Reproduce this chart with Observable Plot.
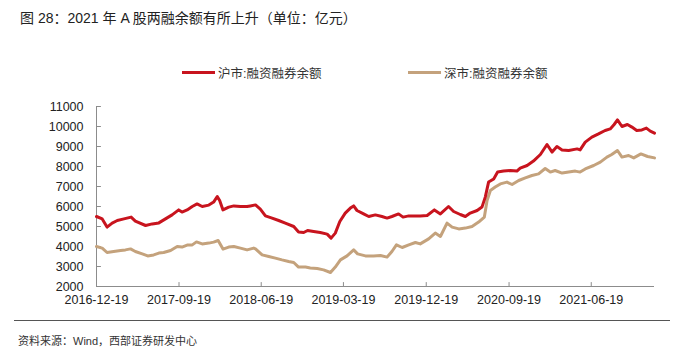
<!DOCTYPE html>
<html><head><meta charset="utf-8">
<script src="https://cdn.jsdelivr.net/npm/d3@7"></script>
<script src="https://cdn.jsdelivr.net/npm/@observablehq/plot@0.6"></script>
<style>
body{margin:0;background:#fff;font-family:"Liberation Sans","Noto Sans CJK SC",sans-serif;}
#wrap{position:relative;width:684px;height:351px;overflow:hidden;}
#title{position:absolute;left:20px;top:7px;font-size:14px;color:#222;white-space:nowrap;}
#legend{position:absolute;left:0;top:63px;width:684px;height:18px;font-size:12.5px;color:#333;}
.item{position:absolute;top:0;display:flex;align-items:center;height:18px;white-space:nowrap;}
.sw{display:inline-block;width:33px;height:3px;margin-right:3px;}
#chart{position:absolute;left:0;top:90px;}
#sep{position:absolute;left:14px;top:320px;width:656px;height:0;border-top:1.5px solid #555;}
#caption{position:absolute;left:18px;top:332px;font-size:11px;color:#333;white-space:nowrap;}
</style></head>
<body><div id="wrap">
<div id="title">图 28：2021 年 A 股两融余额有所上升（单位：亿元）</div>
<div id="legend"></div>
<div id="chart"></div>
<div id="sep"></div>
<div id="caption">资料来源：Wind，西部证券研发中心</div>
</div>
<script>
const seriesNames = ["沪市:融资融券余额", "深市:融资融券余额"];
const seriesColors = ["#C8141E", "#C4A27C"];
const xTickLabels = ["2016-12-19","2017-09-19","2018-06-19","2019-03-19","2019-12-19","2020-09-19","2021-06-19"];
const yTicks = [2000,3000,4000,5000,6000,7000,8000,9000,10000,11000];
const xDomain = ["2016-12-19","2022-01-15"];

const shDates = ["2016-12-19","2017-01-07","2017-01-23","2017-02-09","2017-02-26","2017-03-20","2017-04-13","2017-04-27","2017-05-31","2017-06-22","2017-07-14","2017-08-05","2017-08-27","2017-09-18","2017-09-29","2017-10-16","2017-11-02","2017-11-18","2017-12-05","2017-12-27","2018-01-12","2018-01-24","2018-02-01","2018-02-12","2018-03-03","2018-03-20","2018-04-11","2018-05-03","2018-05-14","2018-05-31","2018-06-16","2018-07-03","2018-07-25","2018-08-16","2018-09-07","2018-10-05","2018-10-21","2018-11-07","2018-11-20","2018-12-10","2019-01-01","2019-01-24","2019-02-06","2019-02-20","2019-03-07","2019-03-25","2019-04-11","2019-04-22","2019-05-03","2019-05-25","2019-06-11","2019-07-03","2019-07-25","2019-08-11","2019-08-27","2019-09-18","2019-10-03","2019-10-22","2019-11-29","2019-12-22","2020-01-15","2020-02-04","2020-03-02","2020-03-19","2020-04-10","2020-04-27","2020-05-13","2020-06-05","2020-06-21","2020-07-02","2020-07-13","2020-07-30","2020-08-12","2020-09-01","2020-09-23","2020-10-15","2020-10-26","2020-11-18","2020-12-09","2021-01-01","2021-01-23","2021-02-09","2021-02-25","2021-03-14","2021-04-05","2021-05-03","2021-05-13","2021-05-30","2021-06-21","2021-07-13","2021-08-04","2021-08-21","2021-09-03","2021-09-14","2021-09-29","2021-10-17","2021-11-01","2021-11-17","2021-12-04","2021-12-19","2022-01-01","2022-01-15"];
const shValues = [5500,5380,4970,5170,5300,5380,5470,5270,5050,5130,5180,5380,5580,5830,5720,5830,6000,6130,6000,6070,6220,6500,6300,5830,5970,6030,6000,6000,6030,6080,5870,5530,5420,5300,5170,5000,4720,4700,4800,4750,4700,4620,4420,4670,5250,5670,5920,6030,5800,5630,5500,5580,5500,5420,5500,5630,5470,5530,5530,5550,5830,5630,6000,5750,5600,5500,5670,5800,5970,6470,7220,7380,7720,7770,7800,7770,7920,8050,8270,8600,9100,8720,9000,8830,8800,8880,8830,9220,9470,9630,9800,9880,10100,10330,10000,10100,9970,9800,9830,9920,9770,9670];

const szDates = ["2016-12-19","2017-01-07","2017-01-23","2017-02-14","2017-03-09","2017-03-25","2017-04-11","2017-04-27","2017-05-20","2017-06-07","2017-06-27","2017-07-14","2017-07-30","2017-08-22","2017-09-13","2017-09-29","2017-10-16","2017-11-02","2017-11-16","2017-12-05","2017-12-27","2018-01-12","2018-01-27","2018-02-12","2018-03-03","2018-03-20","2018-04-11","2018-05-03","2018-05-25","2018-05-31","2018-06-22","2018-07-14","2018-08-05","2018-08-27","2018-09-18","2018-10-05","2018-10-21","2018-11-13","2018-11-29","2018-12-22","2019-01-12","2019-02-04","2019-02-20","2019-03-09","2019-03-31","2019-04-22","2019-05-05","2019-05-31","2019-06-27","2019-07-20","2019-08-11","2019-08-27","2019-09-11","2019-09-30","2019-10-22","2019-11-13","2019-11-29","2019-12-27","2020-01-18","2020-02-04","2020-02-26","2020-03-14","2020-04-05","2020-04-27","2020-05-19","2020-06-10","2020-06-29","2020-07-08","2020-07-19","2020-08-04","2020-08-21","2020-09-12","2020-09-29","2020-10-21","2020-11-12","2020-12-04","2020-12-26","2021-01-17","2021-02-03","2021-02-19","2021-03-14","2021-04-05","2021-04-27","2021-05-13","2021-05-30","2021-06-27","2021-07-19","2021-08-10","2021-08-26","2021-09-14","2021-09-29","2021-10-21","2021-11-07","2021-12-01","2021-12-23","2022-01-15"];
const szValues = [4000,3920,3700,3750,3800,3830,3880,3750,3630,3530,3580,3670,3700,3800,4000,3970,4070,4080,4230,4130,4170,4220,4300,3870,3970,4000,3920,3830,3920,3880,3580,3500,3420,3330,3250,3200,2970,2970,2930,2900,2830,2700,2970,3330,3530,3830,3630,3530,3530,3550,3470,3750,4080,3950,4080,4200,4130,4380,4670,4500,5170,4970,4880,4920,5000,5220,5470,6300,6800,6970,7130,7220,7100,7300,7430,7550,7630,7900,7720,7800,7670,7720,7770,7720,7880,8050,8220,8470,8600,8800,8470,8550,8430,8630,8500,8430];

const parse = d3.utcParse("%Y-%m-%d");
const sh = shDates.map((d,i)=>({date:parse(d), value:shValues[i]}));
const sz = szDates.map((d,i)=>({date:parse(d), value:szValues[i]}));
const xTicks = xTickLabels.map(parse);
const x0 = parse(xDomain[0]);
const axisColor = "#8c8c8c";
const tickShape = {draw(ctx, l){ctx.moveTo(0,0); ctx.lineTo(0,-l);}};

// legend
const leg = document.getElementById("legend");
const legX = [182, 408];
seriesNames.forEach((n,i)=>{
  const it = document.createElement("div");
  it.className = "item"; it.style.left = legX[i] + "px";
  it.innerHTML = `<span class="sw" style="background:${seriesColors[i]}"></span><span>${n}</span>`;
  leg.appendChild(it);
});

const chart = Plot.plot({
  width: 684, height: 222,
  marginTop: 16, marginBottom: 26, marginLeft: 96, marginRight: 30,
  style: {fontFamily: '"Liberation Sans", sans-serif', color: "#222", background: "transparent"},
  x: {type: "utc", domain: xDomain.map(parse)},
  y: {domain: [2000, 11000]},
  marks: [
    Plot.axisX({ticks: xTicks, tickFormat: d3.utcFormat("%Y-%m-%d"), tickSize: 0, tickPadding: 9, fontSize: 12.5, label: null}),
    Plot.axisY({ticks: yTicks, tickFormat: d3.format("d"), tickSize: 0, tickPadding: 13, fontSize: 12.5, label: null}),
    Plot.ruleX([x0], {stroke: axisColor, strokeWidth: 1}),
    Plot.ruleY([2000], {stroke: axisColor, strokeWidth: 1}),
    Plot.vector(yTicks, {x: x0, y: d=>d, length: 4, rotate: 90, anchor: "start", shape: tickShape, stroke: axisColor, strokeWidth: 1}),
    Plot.vector(xTicks, {x: d=>d, y: 2000, length: 4, rotate: 0, anchor: "start", shape: tickShape, stroke: axisColor, strokeWidth: 1}),
    Plot.line(sz, {x: "date", y: "value", stroke: seriesColors[1], strokeWidth: 3, strokeLinejoin: "round"}),
    Plot.line(sh, {x: "date", y: "value", stroke: seriesColors[0], strokeWidth: 3, strokeLinejoin: "round"})
  ]
});
document.getElementById("chart").appendChild(chart);
</script>
</body></html>
